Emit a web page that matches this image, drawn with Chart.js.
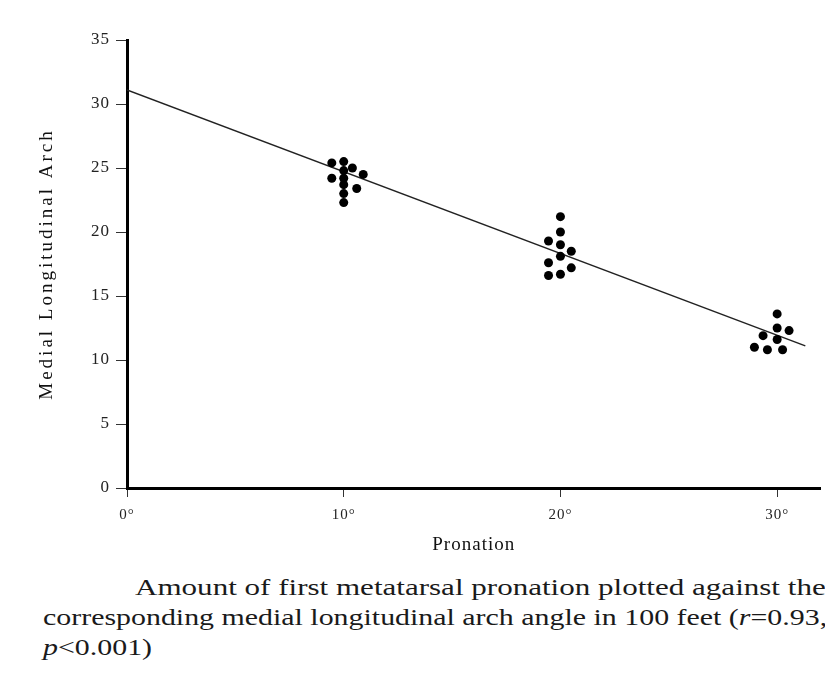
<!DOCTYPE html>
<html>
<head>
<meta charset="utf-8">
<script src="https://cdn.jsdelivr.net/npm/chart.js@4/dist/chart.umd.min.js"></script>
<style>
  html, body { margin: 0; padding: 0; background: #fff; width: 825px; height: 682px; overflow: hidden; }
  #wrap { position: absolute; left: 0; top: 0; width: 825px; height: 560px; }
  #caption { position: absolute; left: 0; top: 573px; width: 825px; height: 109px; font-family: "Liberation Serif", "Times New Roman", serif;
    font-size: 23px; line-height: 30px; color: #1a1a1a; white-space: nowrap; overflow: hidden; }
  #caption div { margin-left: 43px; transform-origin: 0 50%; transform: scaleX(1.3); }
  #caption div.first { margin-left: 135px; transform: scaleX(1.35); }
</style>
</head>
<body>
<div id="wrap"><canvas id="c" width="825" height="560"></canvas></div>
<div id="caption">
  <div class="first">Amount of first metatarsal pronation plotted against the</div>
  <div>corresponding medial longitudinal arch angle in 100 feet (<i>r</i>=0.93,</div>
  <div><i>p</i>&lt;0.001)</div>
</div>
<script>
// Data
const pronation10X = [9.45, 10.0, 10.0, 10.0, 10.0, 10.0, 10.0, 10.4, 10.9, 9.45, 10.6];
const arch10Y      = [25.4, 25.5, 24.8, 24.2, 23.7, 23.0, 22.3, 25.0, 24.5, 24.2, 23.4];
const pronation20X = [20.0, 20.0, 19.45, 20.0, 20.5, 20.0, 19.45, 20.5, 19.45, 20.0];
const arch20Y      = [21.2, 20.0, 19.3, 19.0, 18.5, 18.1, 17.6, 17.2, 16.6, 16.7];
const pronation30X = [30.0, 30.0, 30.55, 29.35, 30.0, 28.95, 29.55, 30.25];
const arch30Y      = [13.6, 12.5, 12.3, 11.9, 11.6, 11.0, 10.8, 10.8];
const fitX = [0, 31.3];
const fitY = [31.1, 11.1];
const xTickValues = [0, 10, 20, 30];
const xTickLabels = ['0°', '10°', '20°', '30°'];
const yTickValues = [0, 5, 10, 15, 20, 25, 30, 35];

function pts(xs, ys) { return xs.map((x, i) => ({ x: x, y: ys[i] })); }
const scatterPts = pts(pronation10X, arch10Y).concat(pts(pronation20X, arch20Y), pts(pronation30X, arch30Y));

const serif = '"Liberation Serif", "Times New Roman", serif';

// wider letter spacing like the scanned figure
const spacingPlugin = {
  id: 'spacing',
  beforeDraw(chart) {
    chart.ctx.letterSpacing = '1px';
    const ys = chart.scales.y;
    if (ys && !ys._spaced) {
      const orig = ys.drawTitle.bind(ys);
      ys.drawTitle = function () {
        const ctx = chart.ctx;
        ctx.save();
        ctx.letterSpacing = '3px';
        orig();
        ctx.restore();
      };
      ys._spaced = true;
    }
  }
};

new Chart(document.getElementById('c'), {
  type: 'scatter',
  data: {
    datasets: [
      {
        type: 'line',
        data: pts(fitX, fitY),
        borderColor: '#222',
        borderWidth: 1.5,
        pointRadius: 0,
        fill: false,
        order: 2
      },
      {
        data: scatterPts,
        backgroundColor: '#000',
        borderColor: '#000',
        pointRadius: 4.5,
        pointBorderWidth: 0,
        order: 1
      }
    ]
  },
  options: {
    responsive: false,
    animation: false,
    events: [],
    layout: { padding: { left: 36, right: 3, top: 40, bottom: 0 } },
    plugins: { legend: { display: false }, tooltip: { enabled: false } },
    scales: {
      x: {
        type: 'linear',
        min: 0,
        max: 32,
        afterBuildTicks: (s) => { s.ticks = xTickValues.map(v => ({ value: v })); },
        afterFit: (s) => { s.height = 72; },
        border: { display: true, color: '#000', width: 3 },
        grid: { drawOnChartArea: false, drawTicks: true, tickLength: 9, color: '#333', lineWidth: 1 },
        ticks: {
          color: '#222', font: { family: serif, size: 15 }, padding: 9,
          callback: (v) => { const i = xTickValues.indexOf(v); return i >= 0 ? xTickLabels[i] : ''; }
        },
        title: { display: true, text: 'Pronation', color: '#111', font: { family: serif, size: 19 }, padding: { top: 8 } }
      },
      y: {
        type: 'linear',
        min: 0,
        max: 35,
        afterBuildTicks: (s) => { s.ticks = yTickValues.map(v => ({ value: v })); },
        afterFit: (s) => { s.width = 91; },
        border: { display: true, color: '#000', width: 3 },
        grid: { drawOnChartArea: false, drawTicks: true, tickLength: 11, color: '#333', lineWidth: 1 },
        ticks: { color: '#222', font: { family: serif, size: 17 }, padding: 6 },
        title: { display: true, text: 'Medial Longitudinal Arch', color: '#111', font: { family: serif, size: 19 }, padding: { top: 0, bottom: 0 } }
      }
    }
  },
  plugins: [spacingPlugin]
});
</script>
</body>
</html>
